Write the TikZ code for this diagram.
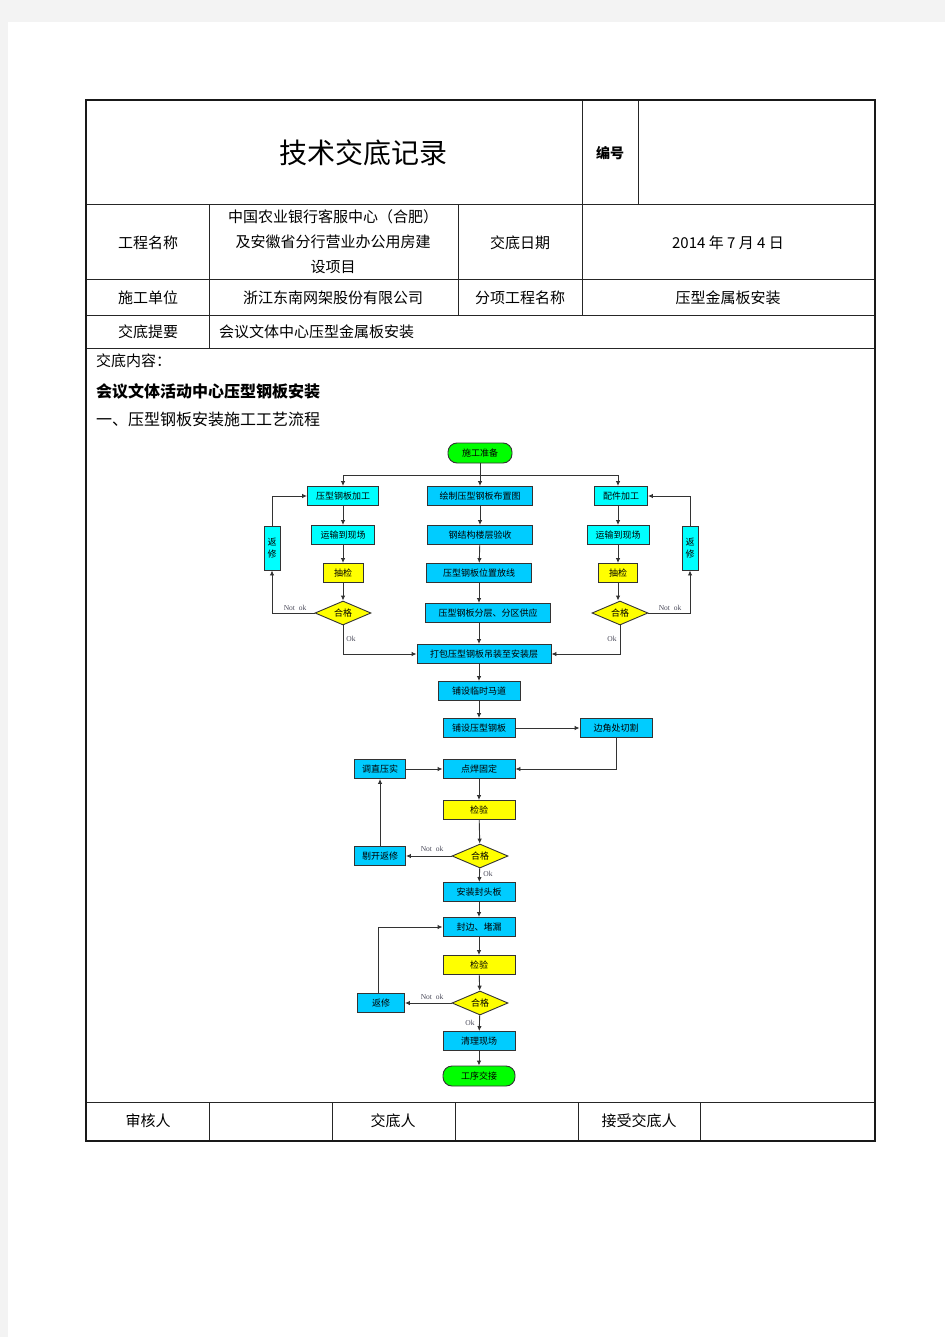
\documentclass[tikz,border=0pt]{standalone}
\usepackage{fontspec}
\setmainfont{Liberation Serif}
\newfontfamily\cjk{Noto Sans CJK SC}
\usetikzlibrary{shapes.geometric,arrows.meta}
\definecolor{pagegray}{HTML}{F3F3F3}
\definecolor{cyanbox}{HTML}{00FFFF}
\definecolor{bluebox}{HTML}{00CCFF}
\definecolor{yelbox}{HTML}{FFFF00}
\definecolor{grnbox}{HTML}{00FF00}
\definecolor{lblcol}{HTML}{4A4A5A}
\definecolor{linecol}{HTML}{333333}
\tikzset{
  fbox/.style={rectangle,draw=linecol,line width=0.9pt,inner sep=0pt,minimum height=19pt,font=\cjk\fontsize{9}{10}\selectfont},
  cbox/.style={fbox,fill=cyanbox},
  bbox/.style={fbox,fill=bluebox},
  ybox/.style={fbox,fill=yelbox},
  gbox/.style={fbox,fill=grnbox,rounded corners=9pt,minimum height=20pt},
  dia/.style={diamond,draw=linecol,line width=0.9pt,fill=yelbox,inner sep=0pt,aspect=2.3,minimum width=56pt,minimum height=24pt,font=\cjk\fontsize{9}{10}\selectfont},
  vbox/.style={cbox,minimum width=16pt,minimum height=44pt,align=center,font=\cjk\fontsize{9}{12}\selectfont},
  arr/.style={draw=linecol,line width=0.9pt,-{Latex[length=5pt,width=4.5pt]}},
  ln/.style={draw=linecol,line width=0.9pt},
  lbl/.style={font=\fontsize{7.5}{8}\selectfont,text=lblcol,inner sep=0pt},
  cell/.style={font=\cjk\fontsize{15}{23}\selectfont,align=center,inner sep=0pt},
  outer/.style={line width=2.2pt,draw=black!90},
  inner/.style={line width=1pt,draw=black!85},
}
\begin{document}
\begin{tikzpicture}[x=1pt,y=-1pt]
\useasboundingbox (0,0) rectangle (945,1337);
\fill[pagegray] (0,0) rectangle (945,1337);
\fill[white] (8,22) rectangle (945,1337);

% ---------- table ----------
\draw[inner] (86,205) -- (875,205);
\draw[inner] (86,280) -- (875,280);
\draw[inner] (86,315) -- (875,315);
\draw[inner] (86,348) -- (875,348);
\draw[inner] (86,1102) -- (875,1102);
\draw[inner] (582,100) -- (582,315);
\draw[inner] (638,100) -- (638,205);
\draw[inner] (209,205) -- (209,348);
\draw[inner] (458,205) -- (458,315);
\draw[inner] (209,1102) -- (209,1141);
\draw[inner] (332,1102) -- (332,1141);
\draw[inner] (455,1102) -- (455,1141);
\draw[inner] (578,1102) -- (578,1141);
\draw[inner] (700,1102) -- (700,1141);
\draw[outer] (86,100) rectangle (875,1141);

\node[cell,font=\cjk\fontsize{28}{30}\selectfont] (title) at (363,153) {技术交底记录};
\node[cell,font=\cjk\bfseries\fontsize{14}{16}\selectfont] (bh) at (610,153) {编号};
\node[cell] (gcmc) at (148,243) {工程名称};
\node[cell,font=\cjk\fontsize{15}{25}\selectfont] (gcv) at (333,242) {中国农业银行客服中心（合肥）\\及安徽省分行营业办公用房建\\设项目};
\node[cell] (jdrq) at (520,243) {交底日期};
\node[cell] (date) at (728,243) {2014 {\cjk 年} 7 {\cjk 月} 4 {\cjk 日}};
\node[cell] (sgdw) at (148,298) {施工单位};
\node[cell] (sgv) at (333,298) {浙江东南网架股份有限公司};
\node[cell] (fx) at (520,298) {分项工程名称};
\node[cell] (fxv) at (728,298) {压型金属板安装};
\node[cell] (jdty) at (148,332) {交底提要};
\node[cell,anchor=west] (jdv) at (219,332) {会议文体中心压型金属板安装};
\node[cell,anchor=west] (nr) at (96,361) {交底内容：};
\node[cell,anchor=west,font=\cjk\bfseries\fontsize{16}{18}\selectfont] (h1) at (96,391) {会议文体活动中心压型钢板安装};
\node[cell,anchor=west,font=\cjk\fontsize{16}{18}\selectfont] (h2) at (96,419) {一、压型钢板安装施工工艺流程};
\node[cell] (shr) at (148,1121) {审核人};
\node[cell] (jdr) at (393,1121) {交底人};
\node[cell] (jsr) at (639,1121) {接受交底人};

% ---------- flowchart ----------
\node[gbox,minimum width=64pt] (s) at (480,453) {施工准备};
\node[cbox,minimum width=71pt] (a1) at (343,496) {压型钢板加工};
\node[bbox,minimum width=105pt] (b1) at (480,496) {绘制压型钢板布置图};
\node[cbox,minimum width=53pt] (c1) at (621,496) {配件加工};
\node[cbox,minimum width=63pt] (a2) at (343,535) {运输到现场};
\node[bbox,minimum width=105pt] (b2) at (480,535) {钢结构楼层验收};
\node[cbox,minimum width=62pt] (c2) at (618,535) {运输到现场};
\node[ybox,minimum width=40pt] (a3) at (343,573) {抽检};
\node[bbox,minimum width=105pt] (b3) at (479,573) {压型钢板位置放线};
\node[ybox,minimum width=39pt] (c3) at (618,573) {抽检};
\node[vbox] (r1) at (272,548) {返\\修};
\node[vbox] (r2) at (690,548) {返\\修};
\node[dia] (d1) at (343,613) {合格};
\node[dia] (d2) at (620,613) {合格};
\node[bbox,minimum width=125pt] (b4) at (488,613) {压型钢板分层、分区供应};
\node[bbox,minimum width=134pt] (p) at (484,654) {打包压型钢板吊装至安装层};

\node[bbox,minimum width=82pt] (m1) at (479,691) {铺设临时马道};
\node[bbox,minimum width=72pt] (m2) at (479,728) {铺设压型钢板};
\node[bbox,minimum width=72pt] (e) at (616,728) {边角处切割};
\node[bbox,minimum width=72pt] (m3) at (479,769) {点焊固定};
\node[bbox,minimum width=51pt] (t) at (380,769) {调直压实};
\node[ybox,minimum width=72pt] (k1) at (479,810) {检验};
\node[dia] (g1) at (480,856) {合格};
\node[bbox,minimum width=51pt] (f1) at (380,856) {剔开返修};
\node[bbox,minimum width=72pt] (m4) at (479,892) {安装封头板};
\node[bbox,minimum width=72pt] (m5) at (479,927) {封边、堵漏};
\node[ybox,minimum width=72pt] (k2) at (479,965) {检验};
\node[dia] (g2) at (480,1003) {合格};
\node[bbox,minimum width=47pt] (f2) at (381,1003) {返修};
\node[bbox,minimum width=72pt] (m6) at (479,1041) {清理现场};
\node[gbox,minimum width=72pt] (fin) at (479,1076) {工序交接};

% connectors top
\draw[ln] (s.south) -- ++(0,12) coordinate (j);
\draw[arr] (j) -| (a1.north);
\draw[arr] (j) -| ([xshift=-3pt]c1.north);
\draw[arr] (j) -- (b1.north);
\draw[arr] (a1) -- (a2);
\draw[arr] (a2) -- (a3);
\draw[arr] (a3) -- (d1);
\draw[arr] (b1) -- (b2);
\draw[arr] (b2) -- (b3);
\draw[arr] (b3.south) -- (b3.south |- b4.north);
\draw[arr] (b3.south |- b4.south) -- (b3.south |- p.north);
\draw[arr] ([xshift=-3pt]c1.south) -- (c2.north);
\draw[arr] (c2) -- (c3);
\draw[arr] (c3.south) -- (c3.south |- d2.north);
% left loop
\draw[arr] (d1.west) -| (r1.south);
\draw[arr] (r1.north) |- (a1.west);
\draw[arr] (d1.south) |- (p.west);
% right loop
\draw[arr] (d2.east) -| (r2.south);
\draw[arr] (r2.north) |- (c1.east);
\draw[arr] (d2.south) |- (p.east);
\node[lbl] (nl1) at (295,608) {Not\ \ ok};
\node[lbl] (nl2) at (670,608) {Not\ \ ok};
\node[lbl] (ok1) at (351,639) {Ok};
\node[lbl] (ok2) at (612,639) {Ok};

% lower part
\draw[arr] (m1.north |- p.south) -- (m1.north);
\draw[arr] (m1) -- (m2);
\draw[arr] (m2) -- (e);
\draw[arr] (e.south) |- (m3.east);
\draw[arr] (t) -- (m3);
\draw[arr] (m3) -- (k1);
\draw[arr] (k1) -- (g1);
\draw[arr] (g1) -- (f1);
\draw[arr] (f1) -- (t);
\draw[arr] (g1) -- (m4);
\draw[arr] (m4) -- (m5);
\draw[arr] (m5) -- (k2);
\draw[arr] (k2) -- (g2);
\draw[arr] (g2) -- (f2);
\draw[arr] ([xshift=-3pt]f2.north) |- (m5.west);
\draw[arr] (g2) -- (m6);
\draw[arr] (m6) -- (fin);
\node[lbl] (nl3) at (432,849) {Not\ \ ok};
\node[lbl] (ok3) at (488,874) {Ok};
\node[lbl] (nl4) at (432,997) {Not\ \ ok};
\node[lbl] (ok4) at (470,1023) {Ok};
\end{tikzpicture}
\end{document}
